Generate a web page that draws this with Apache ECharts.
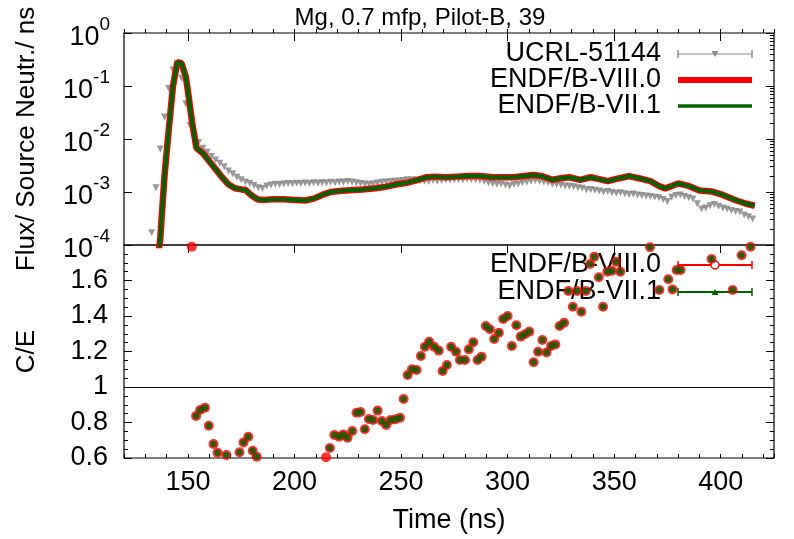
<!DOCTYPE html>
<html><head><meta charset="utf-8">
<script src="https://cdn.jsdelivr.net/npm/echarts@6/dist/echarts.min.js"></script>
<style>html,body{margin:0;padding:0;background:#fff}#c{width:794px;height:539px}</style>
</head><body><div id="c"></div>
<script>
// ---- data ----
const expTime = [133,135,137,139,141,143,145,147,149,151,153,155,157,159,161,163,165,167,169,171,173,175,177,179,181,183,185,187,189,191,193,195,197,199,201,203,205,207,209,211,213,215,217,219,221,223,225,227,229,231,233,235,237,239,241,243,245,247,249,251,253,255,257,259,261,263,265,267,269,271,273,275,277,279,281,283,285,287,289,291,293,295,297,299,301,303,305,307,309,311,313,315,317,319,321,323,325,327,329,331,333,335,337,339,341,343,345,347,349,351,353,355,357,359,361,363,365,367,369,371,373,375,377,379,381,383,385,387,389,391,393,395,397,399,401,403,405,407,409,411,413,415];
const expFlux = [1.7e-4,1.2e-3,6.5e-3,0.026,0.09,0.2,0.27,0.14,0.046,0.018,0.011,0.0086,0.0067,0.0056,0.0047,0.0040,0.0035,0.0030,0.0025,0.0022,0.0019,0.0017,0.00155,0.00145,0.00133,0.0012,0.00117,0.0013,0.00135,0.0014,0.00138,0.00142,0.00145,0.00143,0.00146,0.00144,0.00148,0.00145,0.0015,0.00147,0.0015,0.00148,0.00152,0.0015,0.00155,0.00152,0.00158,0.00155,0.0015,0.00145,0.00142,0.0014,0.00142,0.00148,0.00152,0.00155,0.00158,0.0016,0.00162,0.00165,0.0017,0.00168,0.0017,0.00165,0.0016,0.00158,0.00165,0.0016,0.00165,0.0017,0.00168,0.0017,0.00172,0.0017,0.00175,0.00172,0.0017,0.00168,0.0016,0.0015,0.00145,0.0014,0.00142,0.00135,0.0013,0.00138,0.00142,0.0015,0.00155,0.0016,0.00165,0.0016,0.00155,0.0015,0.0014,0.00138,0.00135,0.0013,0.00128,0.00125,0.0012,0.00118,0.0011,0.00112,0.00108,0.00105,0.001,0.00102,0.00098,0.00095,0.00097,0.00093,0.0009,0.00092,0.00088,0.00086,0.00084,0.00082,0.0008,0.00078,0.00072,0.00066,0.0008,0.00086,0.00088,0.00082,0.00078,0.00074,0.0006,0.00048,0.0005,0.00055,0.00058,0.00054,0.0005,0.00048,0.00045,0.00043,0.00042,0.00037,0.00034,0.00031];

const calcTime = [135,137,139,141,143,145,147,149,150,152,154,157,160,163,166,169,172,175,177,179,181,183,186,190,195,200,205,209,213,217,221,226,232,238,243,248,253,258,262,266,271,276,282,287,293,298,303,308,312,316,321,325,329,334,339,343,347,352,357,362,367,371,374,377,380,385,390,396,401,407,412,416];
const calcVIII = [3e-5,1.3e-4,0.002,0.015,0.1,0.28,0.27,0.15,0.08,0.02,0.0068,0.0054,0.0038,0.0027,0.0019,0.0014,0.00118,0.00112,0.0011,0.00092,0.0008,0.00072,0.00071,0.00073,0.00073,0.00071,0.00069,0.00075,0.00088,0.001,0.00104,0.00108,0.00112,0.00118,0.00126,0.0014,0.0015,0.0017,0.0019,0.00195,0.0019,0.00195,0.002,0.002,0.0019,0.0019,0.0019,0.002,0.0021,0.002,0.0017,0.00182,0.0019,0.0017,0.0019,0.00175,0.0016,0.0018,0.002,0.0018,0.0016,0.0013,0.00117,0.0013,0.00145,0.0013,0.00107,0.00102,0.00088,0.0007,0.0006,0.00055];
const calcVII = [3e-5,1.3e-4,0.002,0.015,0.1,0.28,0.27,0.15,0.08,0.02,0.0068,0.0054,0.0038,0.0027,0.0019,0.0014,0.00118,0.00112,0.0011,0.00092,0.0008,0.00072,0.00071,0.00073,0.00073,0.00071,0.00069,0.00075,0.00088,0.001,0.00104,0.00108,0.00112,0.00118,0.00126,0.0014,0.0015,0.0017,0.0019,0.00195,0.0019,0.00195,0.002,0.002,0.0019,0.0019,0.0019,0.002,0.0021,0.002,0.0017,0.00182,0.0019,0.0017,0.0019,0.00175,0.0016,0.0018,0.002,0.0018,0.0016,0.0013,0.00117,0.0013,0.00145,0.0013,0.00107,0.00102,0.00088,0.0007,0.0006,0.00055];

const ratioTime = [151.8,153.8,155.7,158,159.8,162,163.9,168,174.2,176.1,178.3,180.4,182.3,214.8,216.6,218.7,221,222.9,224.9,227.1,229.1,231,233,234.9,236.9,239,241,243,245.1,247.4,249.5,251.2,253.1,255.1,257.3,259.3,261.2,263.2,265.5,267.7,269.5,271.5,273.5,275.8,277.6,280,281.8,283.9,285.9,287.8,289.8,291.7,293.7,295.9,297.9,300,302,304.1,306.1,308.1,310.2,312.2,314.3,316.3,318.3,320.4,322.4,324.4,326.5,328.5,330.6,332.6,334.6,336.7,338.7,340.7,342.8,344.8,346.8,348.9,350.9,352.9,366.8,371.2,375.4,377.4,379.3,381.2,395.7,405.6,409.8,414];
const ratioVIII = [1.79,0.837,0.87,0.883,0.782,0.679,0.63,0.617,0.632,0.688,0.72,0.641,0.607,0.604,0.656,0.73,0.72,0.733,0.714,0.752,0.855,0.859,0.762,0.82,0.814,0.867,0.808,0.786,0.814,0.818,0.827,0.932,1.068,1.10,1.096,1.175,1.227,1.255,1.227,1.205,1.09,1.124,1.227,1.199,1.152,1.152,1.212,1.252,1.152,1.171,1.344,1.325,1.27,1.306,1.383,1.40,1.231,1.348,1.284,1.297,1.312,1.139,1.199,1.265,1.195,1.231,1.24,1.344,1.362,1.541,1.452,1.541,1.424,1.541,1.693,1.734,1.618,1.452,1.65,1.655,1.706,1.65,1.787,1.546,1.607,1.55,1.659,1.659,1.721,1.546,1.742,1.79];
const ratioVII = [null,0.837,0.87,0.883,0.782,0.679,0.63,0.617,0.632,0.688,0.72,0.641,0.607,null,0.656,0.73,0.72,0.733,0.714,0.752,0.855,0.859,0.762,0.82,0.814,0.867,0.808,0.786,0.814,0.818,0.827,0.932,1.068,1.10,1.096,1.175,1.227,1.255,1.227,1.205,1.09,1.124,1.227,1.199,1.152,1.152,1.212,1.252,1.152,1.171,1.344,1.325,1.27,1.306,1.383,1.40,1.231,1.348,1.284,1.297,1.312,1.139,1.199,1.265,1.195,1.231,1.24,1.344,1.362,1.541,1.452,1.541,1.424,1.541,1.693,1.734,1.618,1.452,1.65,1.655,1.706,1.65,1.787,1.546,1.607,1.55,1.659,1.659,1.721,1.546,1.742,1.79];

const xMajorTicks = [150,200,250,300,350,400];
const fluxDecades = [-4,-3,-2,-1,0];
const fluxMinorMantissa = [2,3,4,5,6,7,8,9];
const titleText = 'Mg, 0.7 mfp, Pilot-B, 39';

// ---- build ----
const zip = (a, b) => a.map((v, i) => [v, b[i]]);
const FONT = 'Liberation Sans, Arial, Helvetica, sans-serif';
const FS = 27;
const fluxMinorLog = [];
fluxDecades.slice(0, -1).forEach(d => fluxMinorMantissa.forEach(m => fluxMinorLog.push(d + Math.log10(m))));

const G0 = {left: 124, top: 33, width: 650, height: 212};
const G1 = {left: 124, top: 245, width: 650, height: 213};
const tickStyle = {color: '#000', width: 1};

function xAx(gi, major, labels) {
  const a = {
    type: 'value', gridIndex: gi, min: 120, max: 425, interval: 10,
    axisLine: {show: false}, splitLine: {show: false},
    axisTick: {show: true, inside: true, length: major ? 8 : 4, lineStyle: tickStyle},
    axisLabel: {show: false}
  };
  if (major) a.axisTick.customValues = xMajorTicks;
  if (labels) {
    a.axisLabel = {show: true, customValues: xMajorTicks, color: '#000', fontSize: FS, fontFamily: FONT, margin: 11};
    a.name = 'Time (ns)'; a.nameLocation = 'middle'; a.nameGap = 49;
    a.nameTextStyle = {color: '#000', fontSize: FS, fontFamily: FONT};
  }
  return a;
}

const chart = echarts.init(document.getElementById('c'), null, {renderer: 'canvas'});
const legendFont = 'normal 27px ' + FONT;
const LX0 = 678, LX1 = 752, LXM = 715, LT = 661;
function legText(y, t) {
  return {type: 'text', z: 0, style: {x: LT, y: y, text: t, textAlign: 'right', textVerticalAlign: 'middle', font: legendFont, fill: '#000'}};
}
function legLine(y, color, w) {
  return {type: 'line', z: 0, shape: {x1: LX0, y1: y, x2: LX1, y2: y}, style: {stroke: color, lineWidth: w}};
}
function caps(y, color) {
  return [
    {type: 'line', z: 0, shape: {x1: LX0, y1: y - 4, x2: LX0, y2: y + 4}, style: {stroke: color, lineWidth: 1.5}},
    {type: 'line', z: 0, shape: {x1: LX1, y1: y - 4, x2: LX1, y2: y + 4}, style: {stroke: color, lineWidth: 1.5}}
  ];
}

chart.setOption({
  animation: false,
  backgroundColor: '#fff',
  title: {text: titleText, left: 415, textAlign: 'center', top: 1,
    textStyle: {color: '#000', fontSize: 24, fontWeight: 'normal', fontFamily: FONT}},
  grid: [
    Object.assign({show: true, borderColor: '#000', borderWidth: 1.2, backgroundColor: 'transparent'}, G0),
    Object.assign({show: true, borderColor: '#000', borderWidth: 1.2, backgroundColor: 'transparent'}, G1)
  ],
  xAxis: [xAx(0, false, false), xAx(0, true, false), xAx(1, false, true), xAx(1, true, false)],
  yAxis: [
    {type: 'log', gridIndex: 0, logBase: 10, min: 1e-4, max: 1,
     axisLine: {show: false}, splitLine: {show: false},
     axisTick: {show: true, inside: true, length: 8, lineStyle: tickStyle},
     axisLabel: {show: true, margin: 14, color: '#000', fontFamily: FONT,
       formatter: v => '{b|10}{s|' + Math.round(Math.log10(v)) + '}',
       rich: {b: {fontSize: FS, lineHeight: 36, verticalAlign: 'bottom', fontFamily: FONT, color: '#000'},
              s: {fontSize: 19, lineHeight: 19, verticalAlign: 'top', fontFamily: FONT, color: '#000'}}},
     name: 'Flux/ Source Neutr./ ns', nameLocation: 'middle', nameGap: 84,
     nameTextStyle: {color: '#000', fontSize: 26, fontFamily: FONT}},
    {type: 'value', gridIndex: 0, min: -4, max: 0, show: true,
     axisLine: {show: false}, splitLine: {show: false}, axisLabel: {show: false},
     axisTick: {show: true, inside: true, length: 4, customValues: fluxMinorLog, lineStyle: tickStyle}},
    {type: 'value', gridIndex: 0, min: -4, max: 0, interval: 1, position: 'right',
     axisLine: {show: false}, splitLine: {show: false}, axisLabel: {show: false},
     axisTick: {show: true, inside: true, length: 8, lineStyle: tickStyle}},
    {type: 'value', gridIndex: 0, min: -4, max: 0, position: 'right',
     axisLine: {show: false}, splitLine: {show: false}, axisLabel: {show: false},
     axisTick: {show: true, inside: true, length: 4, customValues: fluxMinorLog, lineStyle: tickStyle}},
    {type: 'value', gridIndex: 1, min: 0.6, max: 1.8, interval: 0.2,
     axisLine: {show: false}, splitLine: {show: false},
     axisTick: {show: true, inside: true, length: 8, lineStyle: tickStyle},
     minorTick: {show: true, splitNumber: 4, length: 4, lineStyle: tickStyle},
     axisLabel: {show: true, margin: 16, color: '#000', fontSize: FS, fontFamily: FONT,
       formatter: v => v > 1.7 ? '' : String(+v.toFixed(1))},
     name: 'C/E', nameLocation: 'middle', nameGap: 84,
     nameTextStyle: {color: '#000', fontSize: 26, fontFamily: FONT}},
    {type: 'value', gridIndex: 1, min: 0.6, max: 1.8, interval: 0.2, position: 'right',
     axisLine: {show: false}, splitLine: {show: false}, axisLabel: {show: false},
     axisTick: {show: true, inside: true, length: 8, lineStyle: tickStyle},
     minorTick: {show: true, splitNumber: 4, length: 4, lineStyle: tickStyle}}
  ],
  series: [
    {name: 'UCRL-51144', type: 'scatter', xAxisIndex: 0, yAxisIndex: 0, data: zip(expTime, expFlux),
     symbol: 'triangle', symbolRotate: 180, symbolSize: 7, itemStyle: {color: '#808080'}, z: 3},
    {name: 'ENDF/B-VIII.0', type: 'line', xAxisIndex: 0, yAxisIndex: 0, data: zip(calcTime, calcVIII),
     showSymbol: false, lineStyle: {color: '#ff0000', width: 6.5}, itemStyle: {color: '#ff0000'}, z: 4, clip: true},
    {name: 'ENDF/B-VII.1', type: 'line', xAxisIndex: 0, yAxisIndex: 0, data: zip(calcTime, calcVII),
     showSymbol: false, lineStyle: {color: '#006400', width: 4}, itemStyle: {color: '#006400'}, z: 5, clip: true},
    {name: 'C/E VIII.0', type: 'scatter', xAxisIndex: 2, yAxisIndex: 4, data: zip(ratioTime, ratioVIII),
     symbol: 'circle', symbolSize: 10, itemStyle: {color: '#ff0000'}, z: 4,
     markLine: {silent: true, symbol: 'none', label: {show: false}, lineStyle: {color: '#000', width: 1, type: 'solid'},
       data: [{yAxis: 1}]}},
    {name: 'C/E VII.1', type: 'scatter', xAxisIndex: 2, yAxisIndex: 4, data: zip(ratioTime, ratioVII),
     symbol: 'circle', symbolSize: 6.5, itemStyle: {color: '#006400'}, z: 5}
  ],
  graphic: [
    legText(54, 'UCRL-51144'), legLine(54, '#8a8a8a', 1), ...caps(54, '#8a8a8a'),
    {type: 'polygon', z: 0, shape: {points: [[LXM - 3.5, 51], [LXM + 3.5, 51], [LXM, 57]]}, style: {fill: '#8a8a8a'}},
    legText(80, 'ENDF/B-VIII.0'), legLine(80, '#ff0000', 6),
    legText(106, 'ENDF/B-VII.1'), legLine(106, '#006400', 3.5),
    legText(265, 'ENDF/B-VIII.0'), legLine(265, '#ff0000', 2), ...caps(265, '#ff0000'),
    {type: 'circle', z: 0, shape: {cx: LXM, cy: 265, r: 4}, style: {fill: '#fff', stroke: '#ff0000', lineWidth: 1.5}},
    legText(292, 'ENDF/B-VII.1'), legLine(292, '#006400', 2), ...caps(292, '#006400'),
    {type: 'polygon', z: 0, shape: {points: [[LXM - 3.5, 295], [LXM + 3.5, 295], [LXM, 289]]}, style: {fill: '#006400'}}
  ]
});
</script></body></html>
